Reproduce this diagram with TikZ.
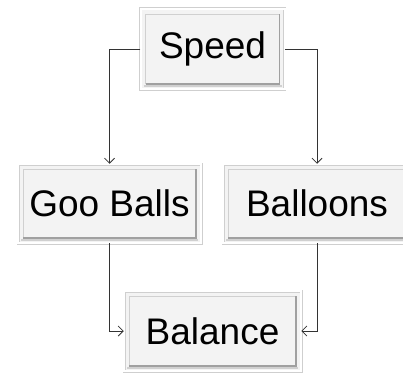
\documentclass[tikz,border=0pt]{standalone}
\usepackage{fontspec}
\setmainfont{Liberation Sans}
\usetikzlibrary{shadows,arrows.meta}
\definecolor{boxfill}{HTML}{F3F3F3}
\definecolor{bevellight}{HTML}{D0D0D0}
\definecolor{beveldark}{HTML}{A0A0A0}
\definecolor{rimline}{HTML}{CFCFCF}
\tikzset{
  bevelbox/.style={
    rectangle, fill=boxfill, draw=rimline, line width=0.5pt,
    double=white, double distance=2pt,
    inner sep=0pt, font=\fontsize{37}{44}\selectfont,
    drop shadow={opacity=0.4, shadow xshift=0.8pt, shadow yshift=-1.8pt},
    path picture={
      \draw[bevellight, line width=0.8pt]
        ([xshift=5pt,yshift=5pt]path picture bounding box.south west)
        |- ([xshift=-5pt,yshift=-5pt]path picture bounding box.north east);
      \draw[beveldark, line width=1.3pt]
        ([xshift=5pt,yshift=5pt]path picture bounding box.south west)
        -| ([xshift=-5pt,yshift=-5pt]path picture bounding box.north east);
      \draw[bevellight, line width=1.2pt]
        ([xshift=3pt,yshift=3pt]path picture bounding box.south west)
        -- ([xshift=-3pt,yshift=3pt]path picture bounding box.south east);
    }
  },
  link/.style={draw=black!80, line width=0.75pt, -{Straight Barb[length=5pt,width=10pt]}}
}
\begin{document}
\begin{tikzpicture}[x=1pt,y=-1pt]
  \useasboundingbox (0,0) rectangle (403,377);
  \clip (0,0) rectangle (403,377);
  \node[bevelbox, minimum width=144pt, minimum height=80pt] (speed) at (212.5,49) {Speed};
  \node[bevelbox, minimum width=183pt, minimum height=79pt] (goo) at (109.5,203.5) {Goo Balls};
  \node[bevelbox, minimum width=188pt, minimum height=79pt] (balloons) at (317,203.5) {Balloons};
  \node[bevelbox, minimum width=177pt, minimum height=80pt] (balance) at (212.5,331) {Balance};
  \draw[link] (speed.west) -| (goo.north);
  \draw[link] (speed.east) -| (balloons.north);
  \draw[link] (goo.south) |- (balance.west);
  \draw[link] (balloons.south) |- (balance.east);
\end{tikzpicture}
\end{document}
